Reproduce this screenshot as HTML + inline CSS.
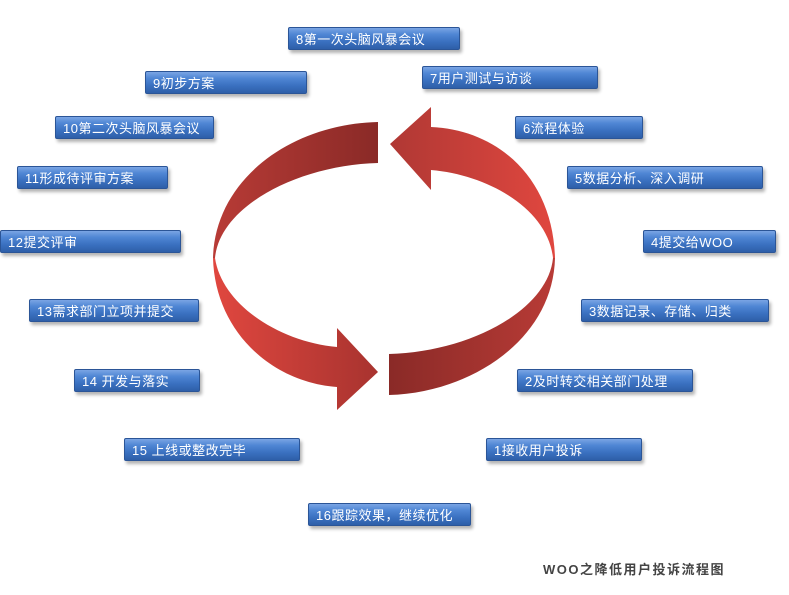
<!DOCTYPE html>
<html><head><meta charset="utf-8"><style>
body{margin:0;width:789px;height:595px;background:#fff;position:relative;overflow:hidden;font-family:"Liberation Sans","Noto Sans CJK SC",sans-serif}
.b{position:absolute;height:23px;line-height:23px;color:#fff;font-size:13px;letter-spacing:0.5px;padding-left:7px;box-sizing:border-box;
background:linear-gradient(#7aa5e4 0%,#4f86d4 30%,#3a70c0 65%,#2e5fa8 100%);
border:1px solid #2b5597;border-radius:2px;box-shadow:2px 3px 3px rgba(0,0,0,.3);white-space:nowrap}
.t{position:absolute;left:543px;top:559px;font-size:13px;font-weight:bold;color:#444;letter-spacing:1.5px}
</style></head><body>
<svg width="789" height="595" style="position:absolute;left:0;top:0">
<defs>
<linearGradient id="g1" x1="0" x2="1"><stop offset="0" stop-color="#b83b36"/><stop offset="1" stop-color="#8a2a27"/></linearGradient>
<linearGradient id="g2" x1="0" x2="1"><stop offset="0" stop-color="#e0473f"/><stop offset="1" stop-color="#a8332f"/></linearGradient>
<linearGradient id="g3" x1="0" x2="1"><stop offset="0" stop-color="#8a2a27"/><stop offset="1" stop-color="#b83b36"/></linearGradient>
<linearGradient id="g4" x1="0" x2="1"><stop offset="0" stop-color="#b03834"/><stop offset="1" stop-color="#e0473f"/></linearGradient>
</defs>
<path fill="url(#g1)" d="M378,122 C290,124 215,180 213,258 L215,258 C220,205 300,165 378,163 Z"/>
<path fill="url(#g2)" d="M213,258 C215,330 270,382 337,387 L337,410 L378,372 L337,328 L337,347 C280,342 222,305 215,258 Z"/>
<path fill="url(#g3)" d="M389,395 C470,393 553,340 555,258 L553,258 C548,310 470,352 389,354 Z"/>
<path fill="url(#g4)" d="M555,258 C553,180 500,130 431,127 L431,107 L390,144 L431,190 L431,170 C490,175 548,210 553,258 Z"/>
</svg>
<div class="b" style="left:288px;top:27px;width:172px">8第一次头脑风暴会议</div>
<div class="b" style="left:145px;top:71px;width:162px">9初步方案</div>
<div class="b" style="left:422px;top:66px;width:176px">7用户测试与访谈</div>
<div class="b" style="left:55px;top:116px;width:159px">10第二次头脑风暴会议</div>
<div class="b" style="left:515px;top:116px;width:128px">6流程体验</div>
<div class="b" style="left:17px;top:166px;width:151px">11形成待评审方案</div>
<div class="b" style="left:567px;top:166px;width:196px">5数据分析、深入调研</div>
<div class="b" style="left:0px;top:230px;width:181px">12提交评审</div>
<div class="b" style="left:643px;top:230px;width:133px">4提交给WOO</div>
<div class="b" style="left:29px;top:299px;width:170px">13需求部门立项并提交</div>
<div class="b" style="left:581px;top:299px;width:188px">3数据记录、存储、归类</div>
<div class="b" style="left:74px;top:369px;width:126px">14 开发与落实</div>
<div class="b" style="left:517px;top:369px;width:176px">2及时转交相关部门处理</div>
<div class="b" style="left:124px;top:438px;width:176px">15 上线或整改完毕</div>
<div class="b" style="left:486px;top:438px;width:156px">1接收用户投诉</div>
<div class="b" style="left:308px;top:503px;width:163px">16跟踪效果，继续优化</div>
<div class="t">WOO之降低用户投诉流程图</div>
</body></html>
